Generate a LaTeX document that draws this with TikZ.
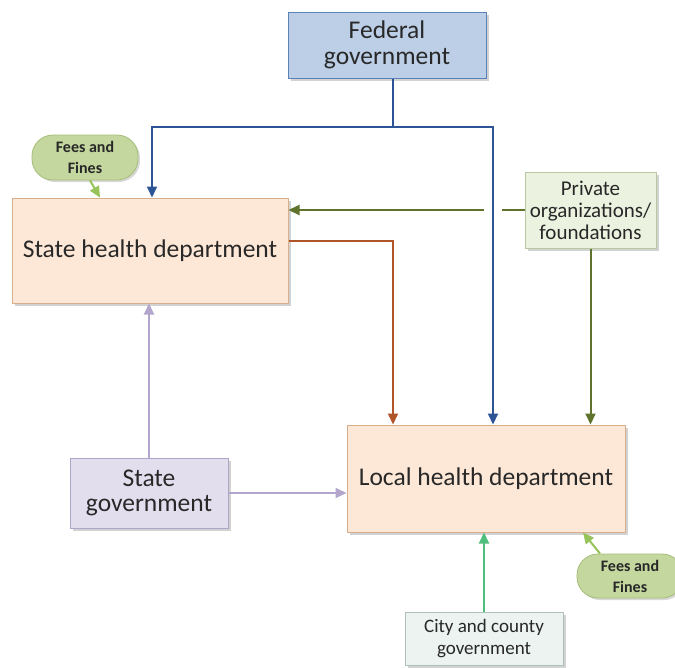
\documentclass[tikz,border=0pt]{standalone}
\usepackage{fontspec}
\setmainfont{Carlito}
\usetikzlibrary{arrows.meta,shadows,calc}
\definecolor{fedfill}{RGB}{188,207,230}
\definecolor{fedline}{RGB}{90,130,185}
\definecolor{peach}{RGB}{253,232,215}
\definecolor{peachline}{RGB}{215,175,140}
\definecolor{privfill}{RGB}{236,242,224}
\definecolor{privline}{RGB}{185,200,160}
\definecolor{sgfill}{RGB}{226,222,238}
\definecolor{sgline}{RGB}{175,165,200}
\definecolor{cityfill}{RGB}{236,243,241}
\definecolor{cityline}{RGB}{175,190,190}
\definecolor{feesfill}{RGB}{196,215,158}
\definecolor{feesline}{RGB}{165,190,120}
\definecolor{bluearr}{RGB}{45,85,150}
\definecolor{olivearr}{RGB}{95,115,45}
\definecolor{brownarr}{RGB}{175,85,40}
\definecolor{purplearr}{RGB}{180,165,205}
\definecolor{greenarr}{RGB}{80,190,125}
\definecolor{feesarr}{RGB}{150,195,90}
\definecolor{txt}{RGB}{40,40,40}
\begin{document}
\begin{tikzpicture}[x=1pt,y=-1pt,
  box/.style={draw, line width=1pt, inner sep=0pt, align=center, text=txt,
    drop shadow={shadow xshift=3pt, shadow yshift=-3pt, opacity=0.35}},
  pill/.style={draw=feesline, fill=feesfill, line width=0.8pt, rounded corners=21pt, inner sep=0pt, align=center, text=txt,
    font=\fontsize{16}{21}\selectfont\bfseries,
    drop shadow={shadow xshift=2pt, shadow yshift=-2pt, opacity=0.3}},
  arr/.style={line width=2pt, -{Triangle[length=11pt,width=10pt]}},
  big/.style={font=\fontsize{25.5}{25.5}\selectfont},
  privtext/.style={font=\fontsize{21}{22}\selectfont},
  citytext/.style={font=\fontsize{19}{22}\selectfont}
]
\useasboundingbox (0,0) rectangle (675,667);
\fill[white] (0,0) rectangle (675,667);

\node[box, big, draw=fedline, fill=fedfill, minimum width=198pt, minimum height=66pt] (fed) at (387,45) {Federal\\government};
\node[box, big, draw=peachline, fill=peach, minimum width=276pt, minimum height=105pt] (shd) at (150,250.5) {State health department};
\node[box, big, draw=peachline, fill=peach, minimum width=278pt, minimum height=107pt] (lhd) at (486,478.5) {Local health department};
\node[box, privtext, draw=privline, fill=privfill, minimum width=131pt, minimum height=76pt] (priv) at (590.5,210) {Private\\organizations/\\foundations};
\node[box, big, draw=sgline, fill=sgfill, minimum width=158pt, minimum height=70pt] (sg) at (149,493) {State\\government};
\node[box, citytext, draw=cityline, fill=cityfill, minimum width=158pt, minimum height=53pt] (city) at (484,638.5) {City and county\\government};
\node[pill, minimum width=106pt, minimum height=45pt] (fees1) at (85,157.5) {Fees and\\Fines};
\node[pill, minimum width=106pt, minimum height=44pt] (fees2) at (630,576) {Fees and\\Fines};

\coordinate (j) at (393,127);

% olive arrows
\draw[arr, olivearr] (priv.west) -- (shd.east |- priv.west);
\draw[arr, olivearr] (priv.south) -- (priv.south |- lhd.north);
% gap at crossing
\fill[white] (484,205) rectangle (502,221);
% blue arrows
\draw[arr, bluearr, -] (fed.south -| j) -- (j);
\draw[arr, bluearr] (j) -| ([xshift=2pt]shd.north);
\draw[arr, bluearr] (j) -| ([xshift=7pt]lhd.north);
% brown
\draw[arr, brownarr] ([yshift=10pt]shd.east) -| ([xshift=-93pt]lhd.north);
% purple
\draw[arr, purplearr] (sg.north) -- (sg.north |- shd.south);
\draw[arr, purplearr] (sg.east) -- (sg.east -| lhd.west);
% green
\draw[arr, greenarr] (city.north) -- (city.north |- lhd.south);
% fees
\draw[arr, feesarr] ([xshift=5pt]fees1.south) -- ([xshift=-50pt]shd.north);
\draw[arr, feesarr] ([xshift=-30pt]fees2.north) -- ([xshift=97pt]lhd.south);
\end{tikzpicture}
\end{document}
